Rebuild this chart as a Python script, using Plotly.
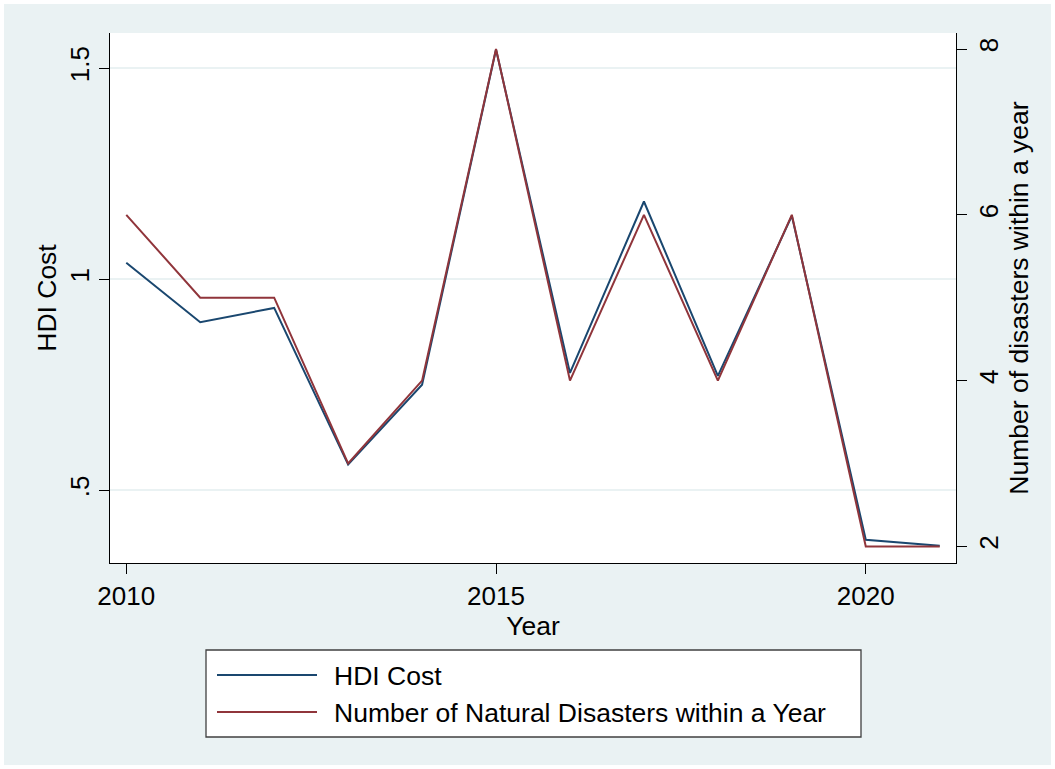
import plotly.graph_objects as go

# Annual series, 2010-2021
years = [2010, 2011, 2012, 2013, 2014, 2015, 2016, 2017, 2018, 2019, 2020, 2021]
hdi_cost = [1.039, 0.898, 0.932, 0.561, 0.750, 1.544, 0.778, 1.184, 0.771, 1.150, 0.383, 0.369]
disasters = [6, 5, 5, 3, 4, 8, 4, 6, 4, 6, 2, 2]

series_names = ["HDI Cost", "Number of Natural Disasters within a Year"]

# Axis ticks
x_ticks = [2010, 2015, 2020]
left_ticks = [0.5, 1.0, 1.5]
left_tick_text = [".5", "1", "1.5"]
right_ticks = [2, 4, 6, 8]

NAVY = "#1A476F"
MAROON = "#90353B"
BG = "#EAF2F3"
FONT = "Liberation Sans, Arial, sans-serif"

W, H = 1055, 769
ML, MR, MT, MB = 110, 99, 33, 206
PW, PH = W - ML - MR, H - MT - MB


def px(x):
    return (x - ML) / PW


def py(y):
    return 1 - (y - MT) / PH


fig = go.Figure()
fig.add_trace(go.Scatter(
    x=years, y=hdi_cost, mode="lines", name=series_names[0],
    line=dict(color=NAVY, width=2), yaxis="y", showlegend=False,
))
fig.add_trace(go.Scatter(
    x=years, y=disasters, mode="lines", name=series_names[1],
    line=dict(color=MAROON, width=2), yaxis="y2", showlegend=False,
))

tickfont = dict(family=FONT, size=26, color="#000")
titlefont = dict(family=FONT, size=26.5, color="#000")

# Boxed key below the plot area
shapes = [
    dict(type="rect", xref="paper", yref="paper", layer="above",
         x0=px(206), x1=px(861), y0=py(737), y1=py(650),
         line=dict(color="#404040", width=1.3), fillcolor="#FFFFFF"),
]
annotations = []
for i, (name, color) in enumerate(zip(series_names, [NAVY, MAROON])):
    yy = 675 + 37 * i
    shapes.append(dict(type="line", xref="paper", yref="paper", layer="above",
                       x0=px(217), x1=px(317), y0=py(yy), y1=py(yy),
                       line=dict(color=color, width=2)))
    annotations.append(dict(text=name, xref="paper", yref="paper",
                            x=px(332), y=py(yy + 1), xanchor="left", yanchor="middle",
                            showarrow=False, font=titlefont))

# Thin white frame around the whole figure
shapes.append(dict(
    type="rect", xref="paper", yref="paper", layer="above",
    x0=-ML / PW, x1=1 + MR / PW, y0=-MB / PH, y1=1 + MT / PH,
    line=dict(color="#FFFFFF", width=8), fillcolor="rgba(0,0,0,0)",
))

fig.update_layout(
    width=W, height=H,
    margin=dict(l=ML, r=MR, t=MT, b=MB, autoexpand=False),
    paper_bgcolor=BG, plot_bgcolor="#FFFFFF",
    font=dict(family=FONT, size=26, color="#000"),
    showlegend=False,
    xaxis=dict(
        range=[2009.78, 2021.22], tickvals=x_ticks, ticks="outside", ticklen=10,
        tickwidth=1, tickcolor="#000", showline=True, linecolor="#000", linewidth=1,
        showgrid=False, zeroline=False, tickfont=tickfont,
        title=dict(text="Year", font=titlefont, standoff=0),
    ),
    yaxis=dict(
        range=[0.328, 1.583], tickvals=left_ticks, ticktext=left_tick_text,
        tickangle=-90, ticks="outside", ticklen=10, tickwidth=1, tickcolor="#000",
        showline=True, linecolor="#000", linewidth=1, showgrid=True, gridcolor=BG,
        gridwidth=2, zeroline=False, tickfont=tickfont,
        title=dict(text="HDI Cost", font=titlefont, standoff=0),
    ),
    yaxis2=dict(
        range=[1.80, 8.193], tickvals=right_ticks, overlaying="y", side="right",
        tickangle=-90, ticks="outside", ticklen=10, tickwidth=1, tickcolor="#000",
        showline=True, linecolor="#000", linewidth=1, showgrid=False, zeroline=False,
        tickfont=tickfont,
        title=dict(text="Number of disasters within a year", font=titlefont, standoff=0),
    ),
    shapes=shapes,
    annotations=annotations,
)

fig.write_html("out.html")
